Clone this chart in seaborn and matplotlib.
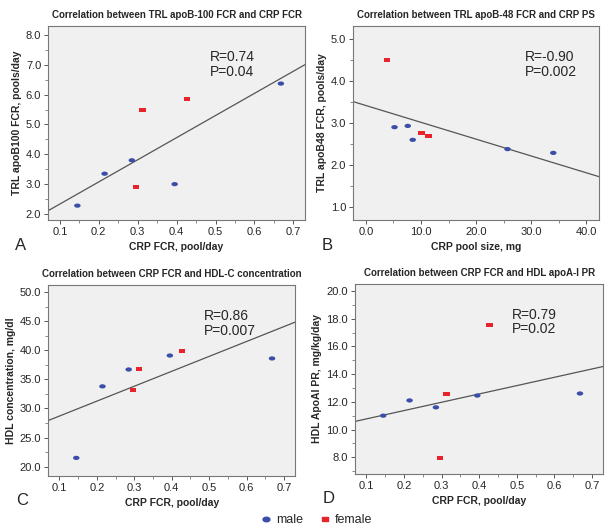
import pandas as pd
import matplotlib
matplotlib.use("Agg")
import matplotlib.pyplot as plt
import seaborn as sns
import numpy as np
from matplotlib.ticker import MultipleLocator, AutoMinorLocator
from matplotlib.lines import Line2D

# CRP FCR (pool/day), shared by panels A, C, D
crp_fcr_male = [0.145, 0.215, 0.285, 0.395, 0.668]
crp_fcr_female = [0.296, 0.313, 0.427]

# panel A: TRL apoB100 FCR
apob100_male = [2.28, 3.35, 3.80, 3.00, 6.37]
apob100_female = [2.92, 5.50, 5.86]

# panel B: CRP pool size vs TRL apoB48 FCR
crp_ps_male = [5.2, 7.6, 8.5, 25.7, 34.0]
crp_ps_female = [3.8, 10.1, 11.4]
apob48_male = [2.90, 2.93, 2.60, 2.38, 2.29]
apob48_female = [4.50, 2.77, 2.70]

# panel C: HDL concentration
hdl_male = [21.5, 33.8, 36.7, 39.1, 38.6]
hdl_female = [33.1, 36.8, 39.8]

# panel D: HDL apoA-I PR
apoa1_male = [11.0, 12.1, 11.6, 12.45, 12.6]
apoa1_female = [7.95, 12.55, 17.55]

stats = ["R=0.74\nP=0.04", "R=-0.90\nP=0.002", "R=0.86\nP=0.007", "R=0.79\nP=0.02"]

MALE = "#3b4fa8"
FEMALE = "#e8232b"
BG = "#f0f0f0"

sns.set_theme(style="white")
plt.rcParams["font.family"] = ["Liberation Sans", "DejaVu Sans"]

fig = plt.figure(figsize=(6.1, 5.3), dpi=100)

ell = [(np.cos(t) * 1.3, np.sin(t) * 0.85) for t in np.linspace(0, 2 * np.pi, 30)]
rect = [(-1.3, -0.8), (1.3, -0.8), (1.3, 0.8), (-1.3, 0.8), (-1.3, -0.8)]

panels = [
    dict(pos=[0.079, 0.585, 0.421, 0.366], xm=crp_fcr_male, xf=crp_fcr_female,
         ym=apob100_male, yf=apob100_female, xlim=(0.07, 0.73), ylim=(1.8, 8.3),
         xstep=0.1, ystep=1.0, xfmt="%.1f",
         title="Correlation between TRL apoB-100 FCR and CRP FCR",
         xlabel="CRP FCR, pool/day", ylabel="TRL apoB100 FCR, pools/day",
         letter="A", stat_xy=(0.63, 0.80)),
    dict(pos=[0.579, 0.585, 0.403, 0.366], xm=crp_ps_male, xf=crp_ps_female,
         ym=apob48_male, yf=apob48_female, xlim=(-2.3, 42.3), ylim=(0.7, 5.3),
         xstep=10.0, ystep=1.0, xfmt="%.1f",
         title="Correlation between TRL apoB-48 FCR and CRP PS",
         xlabel="CRP pool size, mg", ylabel="TRL apoB48 FCR, pools/day",
         letter="B", stat_xy=(0.70, 0.80)),
    dict(pos=[0.079, 0.102, 0.405, 0.360], xm=crp_fcr_male, xf=crp_fcr_female,
         ym=hdl_male, yf=hdl_female, xlim=(0.07, 0.73), ylim=(18.4, 51.2),
         xstep=0.1, ystep=5.0, xfmt="%.1f",
         title="Correlation between CRP FCR and HDL-C concentration",
         xlabel="CRP FCR, pool/day", ylabel="HDL concentration, mg/dl",
         letter="C", stat_xy=(0.63, 0.80)),
    dict(pos=[0.582, 0.106, 0.407, 0.358], xm=crp_fcr_male, xf=crp_fcr_female,
         ym=apoa1_male, yf=apoa1_female, xlim=(0.07, 0.73), ylim=(6.8, 20.5),
         xstep=0.1, ystep=2.0, xfmt="%.1f",
         title="Correlation between CRP FCR and HDL apoA-I PR",
         xlabel="CRP FCR, pool/day", ylabel="HDL ApoAI PR, mg/kg/day",
         letter="D", stat_xy=(0.63, 0.80)),
]

for p, stat in zip(panels, stats):
    ax = fig.add_axes(p["pos"])
    ax.set_facecolor(BG)
    df = pd.DataFrame({
        "x": p["xm"] + p["xf"],
        "y": p["ym"] + p["yf"],
        "sex": ["male"] * len(p["xm"]) + ["female"] * len(p["xf"]),
    })
    ax.set_xlim(*p["xlim"])
    ax.set_ylim(*p["ylim"])
    # fit line over all subjects, drawn across the full x range
    sns.regplot(data=df, x="x", y="y", scatter=False, ci=None, truncate=False,
                color="#555555", line_kws=dict(lw=0.9), ax=ax)
    sns.scatterplot(data=df, x="x", y="y", hue="sex", style="sex",
                    palette={"male": MALE, "female": FEMALE},
                    markers={"male": ell, "female": rect},
                    s=22, linewidth=0, legend=False, ax=ax, zorder=3)
    ax.set_xlim(*p["xlim"])
    ax.set_ylim(*p["ylim"])

    ax.xaxis.set_major_locator(MultipleLocator(p["xstep"]))
    ax.xaxis.set_minor_locator(AutoMinorLocator(2))
    ax.yaxis.set_major_locator(MultipleLocator(p["ystep"]))
    ax.yaxis.set_minor_locator(AutoMinorLocator(2))
    ax.xaxis.set_major_formatter(plt.FormatStrFormatter(p["xfmt"]))
    ax.yaxis.set_major_formatter(plt.FormatStrFormatter("%.1f"))
    ax.tick_params(axis="both", which="major", length=3, width=0.7,
                   color="#555555", labelsize=8, pad=2, bottom=True, left=True)
    ax.tick_params(axis="both", which="minor", length=2, width=0.6,
                   color="#777777", bottom=True, left=True)
    for sp in ax.spines.values():
        sp.set_color("#777777")
        sp.set_linewidth(0.8)

    ax.set_title(p["title"], fontsize=7, fontweight="bold", pad=6)
    ax.set_xlabel(p["xlabel"], fontsize=7.5, fontweight="bold", labelpad=4)
    ax.set_ylabel(p["ylabel"], fontsize=7.5, fontweight="bold", labelpad=3)
    ax.text(p["stat_xy"][0], p["stat_xy"][1], stat, transform=ax.transAxes,
            fontsize=10, va="center", ha="left", linespacing=1.05)
    ax.text(-0.13, -0.13, p["letter"], transform=ax.transAxes, fontsize=12,
            va="center", ha="left")

handles = [
    Line2D([], [], marker=ell, color=MALE, linestyle="none", markersize=5),
    Line2D([], [], marker=rect, color=FEMALE, linestyle="none", markersize=5),
]
fig.legend(handles, ["male", "female"], loc="center", bbox_to_anchor=(0.518, 0.018),
           ncol=2, frameon=False, fontsize=9, handletextpad=0.3, columnspacing=1.2,
           handlelength=1.0)

fig.savefig("out.png", dpi=100, facecolor="white")
